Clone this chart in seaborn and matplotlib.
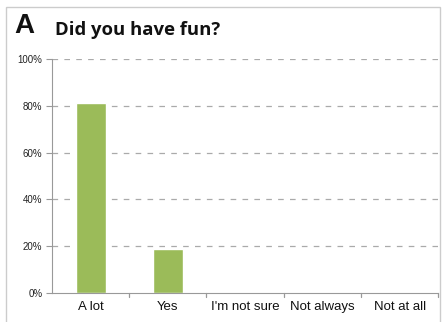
import matplotlib
matplotlib.use("Agg")
import matplotlib.pyplot as plt
import seaborn as sns
import pandas as pd
from matplotlib.patches import Rectangle

categories = ["A lot", "Yes", "I'm not sure", "Not always", "Not at all"]
values = [81, 19, 0, 0, 0]
yticks = [0, 20, 40, 60, 80, 100]
yticklabels = ["0%", "20%", "40%", "60%", "80%", "100%"]

sns.set_style("white")
plt.rcParams['font.family'] = ['Liberation Sans', 'DejaVu Sans']

df = pd.DataFrame({"cat": categories, "val": values})

fig = plt.figure(figsize=(4.46, 3.22), dpi=100)
ax = fig.add_axes([0.1166, 0.09, 0.866, 0.727])
sns.barplot(data=df, x="cat", y="val", color="#9bbb59", saturation=1, width=0.39, ax=ax)

ax.set_ylim(0, 100)
ax.set_xlim(-0.5, 4.5)
ax.set_yticks(yticks)
ax.set_yticklabels(yticklabels, fontsize=7, color="#222222")
ax.set_xticks(range(len(categories)))
ax.set_xticklabels(categories, fontsize=9.5, color="#111111")
ax.set_xlabel("")
ax.set_ylabel("")
for y in yticks[1:]:
    ax.axhline(y, color="#aaaaaa", lw=0.9, ls=(0, (4.5, 5)), zorder=0)
for s in ["top", "right"]:
    ax.spines[s].set_visible(False)
ax.spines["left"].set_color("#999999")
ax.spines["bottom"].set_color("#999999")
ax.tick_params(axis="y", length=4, color="#999999", left=True, pad=3)
ax.tick_params(axis="x", length=0, pad=6)
# category boundary ticks on x-axis
for b in [0.5, 1.5, 2.5, 3.5, 4.5]:
    ax.plot([b, b], [0, -1.5], color="#999999", lw=0.9, clip_on=False, transform=ax.transData)

fig.text(0.031, 0.896, "A", fontsize=20, fontweight="bold", family=["Liberation Sans", "DejaVu Sans"], color="#111111")
fig.text(0.123, 0.891, "Did you have fun?", fontsize=13.3, fontweight="bold", family=["Open Sans", "DejaVu Sans"], color="#111111")

fig.patches.append(Rectangle((0.013, -0.02), 0.974, 0.998, transform=fig.transFigure,
                             fill=False, edgecolor="#cccccc", lw=1))
fig.savefig("out.png", dpi=100)
